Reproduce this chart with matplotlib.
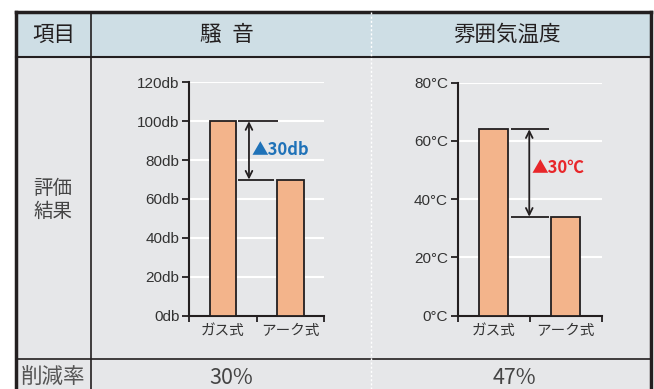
import numpy as np
import matplotlib.pyplot as plt
from matplotlib.patches import Rectangle

plt.rcParams['font.family'] = ['Liberation Sans', 'Noto Sans CJK JP', 'DejaVu Sans']

categories = ['ガス式', 'アーク式']
noise_db = [100, 70]
temp_c = [64, 34]
noise_ticks = [0, 20, 40, 60, 80, 100, 120]
temp_ticks = [0, 20, 40, 60, 80]
headers = ['項目', '騒\u2002音', '雰囲気温度']
row_label = '評価\n結果'
rate_label = '削減率'
rates = ['30%', '47%']
noise_diff = '▲30db'
temp_diff = '▲30℃'

W, H = 654, 389
dark = '#231f20'
bar_color = '#f3b48b'
jp = ['Noto Sans CJK JP', 'DejaVu Sans']

fig = plt.figure(figsize=(W / 100, H / 100), dpi=100)
fig.patch.set_facecolor('white')

# table background, pixel coordinates
bg = fig.add_axes([0, 0, 1, 1])
bg.set_xlim(0, W)
bg.set_ylim(H, 0)
bg.axis('off')
x0, x1, x2, x3 = 15.5, 91, 371, 651
y0, y1, y2 = 12, 56.5, 359
bg.add_patch(Rectangle((x0, y1), x3 - x0, H - y1 + 5, facecolor='#e6e7e9', edgecolor='none'))
bg.add_patch(Rectangle((x0, y0), x3 - x0, y1 - y0, facecolor='#cedee5', edgecolor='none'))
bg.plot([x0, x0], [y0, H + 5], color=dark, lw=2.5)
bg.plot([x3, x3], [y0, H + 5], color=dark, lw=2.5)
bg.plot([x0, x3], [y0, y0], color=dark, lw=2.5)
bg.plot([x0, x3], [y1, y1], color=dark, lw=1.5)
bg.plot([x0, x3], [y2, y2], color=dark, lw=1.2)
bg.plot([x1, x1], [y0, H + 5], color=dark, lw=1.2)
bg.plot([x2, x2], [y0, H + 5], color='white', lw=1.0, ls=(0, (1.5, 1.5)))

bg.text(54, 35, headers[0], ha='center', va='center', fontsize=15.5, color=dark, family=jp)
bg.text(227, 35, headers[1], ha='center', va='center', fontsize=15.5, color=dark, family=jp)
bg.text(507, 35, headers[2], ha='center', va='center', fontsize=15.5, color=dark, family=jp)
bg.text((x0 + x1) / 2, 200, row_label, ha='center', va='center', fontsize=14, color='#444444',
        family=jp, linespacing=1.15)
bg.text((x0 + x1) / 2, 378, rate_label, ha='center', va='center', fontsize=15.5, color='#555555', family=jp)
bg.text((x1 + x2) / 2, 378, rates[0], ha='center', va='center', fontsize=15.5, color='#444444', family=jp)
bg.text((x2 + x3) / 2 + 3, 378, rates[1], ha='center', va='center', fontsize=15.5, color='#444444', family=jp)


def bar_chart(rect, values, ticks, unit, diff_text, diff_color, line_x, arrow_x, label_pos):
    ax = fig.add_axes(rect)
    ax.patch.set_alpha(0)
    x = np.arange(len(values))
    ax.set_axisbelow(True)
    ax.yaxis.grid(True, color='white', lw=1.5)
    ax.bar(x, values, width=0.4, color=bar_color, edgecolor=dark, lw=1.3, zorder=3)
    ax.set_xlim(-0.5, 1.5)
    ax.set_ylim(0, ticks[-1])
    ax.set_yticks(ticks)
    ax.set_yticklabels([f'{t}{unit}' for t in ticks])
    ax.set_xticks([-0.5, 0.5, 1.5])
    ax.set_xticklabels([])
    ax.set_xticks(x, minor=True)
    ax.set_xticklabels(categories, minor=True, family=jp, fontsize=10.5, color='#333333')
    ax.tick_params(axis='x', which='major', length=4, width=1.3, color=dark, direction='out')
    ax.tick_params(axis='x', which='minor', length=0, pad=6)
    ax.tick_params(axis='y', length=5, width=1.3, color=dark, labelsize=11, labelcolor='#333333', pad=2)
    for s in ['top', 'right']:
        ax.spines[s].set_visible(False)
    for s in ['left', 'bottom']:
        ax.spines[s].set_color(dark)
        ax.spines[s].set_linewidth(1.5)
    hi, lo = values
    ax.hlines(hi, line_x[0], line_x[1], color=dark, lw=1.3, zorder=4)
    ax.hlines(lo, line_x[0], line_x[2], color=dark, lw=1.3, zorder=4)
    ax.annotate('', xy=(arrow_x, lo), xytext=(arrow_x, hi),
                arrowprops=dict(arrowstyle='<->', color=dark, lw=1.3, shrinkA=0, shrinkB=0,
                                mutation_scale=12))
    ax.text(label_pos[0], label_pos[1], diff_text, ha='left', va='center', fontsize=12,
            fontweight='bold', color=diff_color, family=jp)
    return ax


bar_chart([189.3 / W, 1 - 315.7 / H, 134.7 / W, 233.4 / H], noise_db, noise_ticks, 'db',
          noise_diff, '#1f72b8', (0.223, 0.8125, 0.757), 0.386, (0.42, 85))
bar_chart([457.7 / W, 1 - 315.7 / H, 144 / W, 233 / H], temp_c, temp_ticks, '°C',
          temp_diff, '#e8262a', (0.240, 0.772, 0.772), 0.494, (0.52, 50.6))

fig.savefig('out.png', dpi=100)
